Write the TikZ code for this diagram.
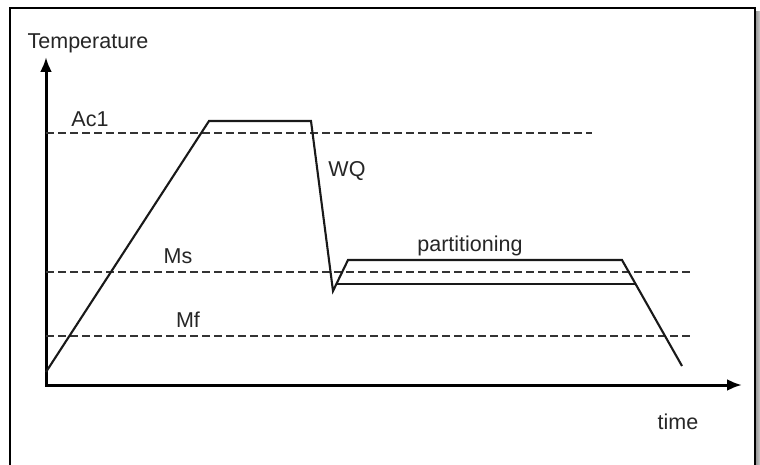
\documentclass[tikz,border=0pt]{standalone}
\usepackage{fontspec}
\setmainfont{Liberation Sans}
\usetikzlibrary{arrows.meta}
\begin{document}
\begin{tikzpicture}[x=1pt,y=-1pt,
  axis/.style={line width=3pt, {Latex[length=15pt,width=12pt]}-{Latex[length=15pt,width=12pt]}, line join=miter},
  level/.style={line width=2.8pt, dash pattern=on 7.5pt off 4.5pt, draw=black!80},
  curve/.style={line width=2.1pt, line join=miter, draw=black!90},
  lbl/.style={font=\fontsize{21.5}{25}\selectfont, inner sep=0pt, text=black!85}]
\useasboundingbox (0,0) rectangle (760,465);

% page frame with its shadow on the right
\fill[left color=black!45, right color=black!20] (755,12) rectangle (760,465);
\fill[white] (10,8) rectangle (755,470);
\draw[line width=1.4pt] (10,470) -- (10,8) -- (755,8) -- (755,470);

% axes
\coordinate (O) at (46,385);
\coordinate (ytip) at (46,57);
\coordinate (xtip) at (742,385);
\draw[axis] (ytip) -- (O) -- (xtip);

% transformation temperatures
\draw[level] (46,133) -- (592,133);
\draw[level] (46,272) -- (692,272);
\draw[level] (46,336) -- (692,336);

% heat treatment cycle
\coordinate (start) at (46,372);
\coordinate (hold1) at (209,121);
\coordinate (hold2) at (311,121);
\coordinate (qt) at (333,291);
\coordinate (p1) at (348,260);
\coordinate (p2) at (622,260);
\coordinate (fin) at (682,366);
\coordinate (l1) at (337,284);
\coordinate (l2) at (635,284);
\draw[curve] (start) -- (hold1) -- (hold2) -- (qt) -- (p1) -- (p2) -- (fin);
\draw[curve] (l1) -- (l2);

% labels
\node[lbl] (ylab) at (88,43) {Temperature};
\node[lbl] (xlab) at (678,422) {time};
\node[lbl] (ac1) at (90,119.5) {Ac1};
\node[lbl] (wq) at (347,171) {WQ};
\node[lbl] (ms) at (178,256.5) {Ms};
\node[lbl] (mf) at (188,320) {Mf};
\node[lbl] (part) at (470,246) {partitioning};
\end{tikzpicture}
\end{document}
